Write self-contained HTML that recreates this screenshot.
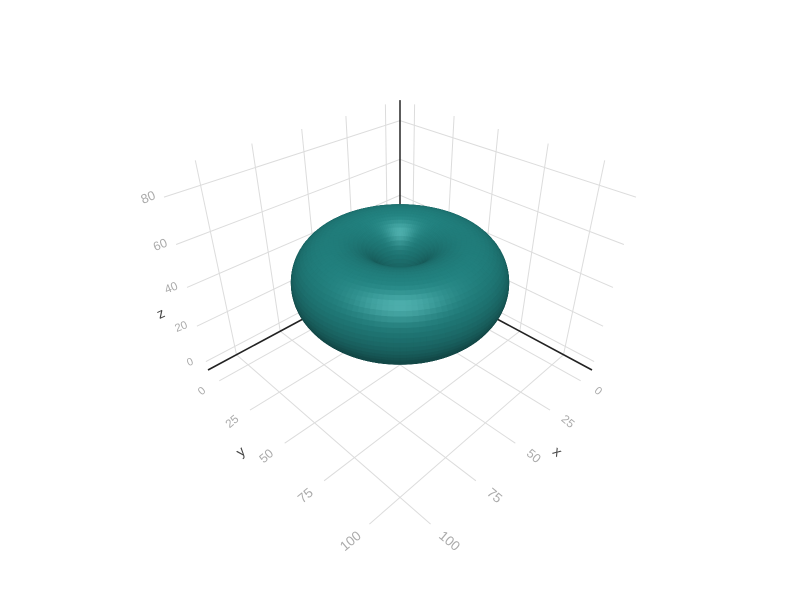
<!DOCTYPE html>
<html><head><meta charset="utf-8">
<style>
html,body{margin:0;padding:0;background:#fff;}
svg{display:block;font-family:"Liberation Sans",sans-serif;}
</style></head>
<body>
<svg id="chart" width="800" height="600" viewBox="0 0 800 600" xmlns="http://www.w3.org/2000/svg">
<rect width="800" height="600" fill="#fff"/>
<g id="grid"></g>
<g id="axes"></g>
<g id="surf"></g>
<g id="labels"></g>
<text x="557" y="456" font-size="14" fill="#444" text-anchor="middle" transform="rotate(40 557 452)">x</text>
<text x="241" y="456" font-size="14" fill="#444" text-anchor="middle" transform="rotate(-40 241 452)">y</text>
<text x="161" y="318" font-size="14" fill="#444" text-anchor="middle" transform="rotate(-25 161 314)">z</text>
</svg>
<script>
const xTicks=[0,25,50,75,100];
const yTicks=[0,25,50,75,100];
const zTicks=[0,20,40,60,80];
const xRange=[-10,115];
const yRange=[-10,115];
const zRange=[-5,90];
const torusCenter=[52.5,52.5,45];
const torusMajor=26;
const torusMinor=18;

const NS="http://www.w3.org/2000/svg";
const H=0.78;
const E=[2.2,2.2,2.1];
const En=Math.hypot(E[0],E[1],E[2]);
const f=E.map(v=>-v/En);
const rv=[-Math.SQRT1_2,Math.SQRT1_2,0];
const up=[rv[1]*f[2]-rv[2]*f[1], rv[2]*f[0]-rv[0]*f[2], rv[0]*f[1]-rv[1]*f[0]];
function dot(a,b){return a[0]*b[0]+a[1]*b[1]+a[2]*b[2];}
function rawP(p){const q=[p[0]-E[0],p[1]-E[1],p[2]-E[2]];const d=dot(q,f);return [dot(q,rv)/d,dot(q,up)/d,d];}
const side=rawP([1,-1,-H]);
const F=192/Math.abs(side[0]);
const CX=400, CY=370+F*side[1];
function proj(p){const r=rawP(p);return [CX+F*r[0],CY-F*r[1],r[2]];}
function ux(x){return (x-(xRange[0]+xRange[1])/2)/((xRange[1]-xRange[0])/2);}
function vy(y){return (y-(yRange[0]+yRange[1])/2)/((yRange[1]-yRange[0])/2);}
function wz(z){return (z-(zRange[0]+zRange[1])/2)/((zRange[1]-zRange[0])/2)*H;}
function line(g,a,b,col,w,name){
  const A=proj(a),B=proj(b);
  const l=document.createElementNS(NS,'line');
  l.setAttribute('x1',A[0].toFixed(1));l.setAttribute('y1',A[1].toFixed(1));
  l.setAttribute('x2',B[0].toFixed(1));l.setAttribute('y2',B[1].toFixed(1));
  l.setAttribute('stroke',col);l.setAttribute('stroke-width',w);
  
  
  g.appendChild(l);
}
const grid=document.getElementById('grid');
const GC='#dcdcdc';
xTicks.forEach(t=>{const u=ux(t);
  line(grid,[u,-1,-H],[u,1,-H],GC,1,'floor-grid-x');
  line(grid,[u,-1,-H],[u,-1,H],GC,1,'wall-grid-x');});
yTicks.forEach(t=>{const v=vy(t);
  line(grid,[-1,v,-H],[1,v,-H],GC,1,'floor-grid-y');
  line(grid,[-1,v,-H],[-1,v,H],GC,1,'wall-grid-y');});
zTicks.forEach(t=>{const w=wz(t);
  line(grid,[-1,-1,w],[1,-1,w],GC,1,'wall-grid-z');
  line(grid,[-1,-1,w],[-1,1,w],GC,1,'wall-grid-z');});
const axes=document.getElementById('axes');
line(axes,[1,-1,-H],[-1,-1,-H],'#222',1.6,'x-axis-line');
line(axes,[-1,1,-H],[-1,-1,-H],'#222',1.6,'y-axis-line');
line(axes,[-1,-1,-H],[-1,-1,H],'#333',1.6,'z-axis-line');

// torus
const surf=document.getElementById('surf');
const NU=120,NV=60;
function tpt(a,b){
  const cx=ux(torusCenter[0]),cy=vy(torusCenter[1]),cz=wz(torusCenter[2]);
  const sx=1/((xRange[1]-xRange[0])/2);
  const R=torusMajor*sx,r=torusMinor*sx;
  return [cx+(R+r*Math.cos(b))*Math.cos(a),cy+(R+r*Math.cos(b))*Math.sin(a),cz+r*Math.sin(b)];
}
let L=[-f[0]+0.5*up[0],-f[1]+0.5*up[1],-f[2]+0.5*up[2]];let ln=Math.hypot(...L);L=L.map(v=>v/ln);
let Hh=[L[0]-f[0],L[1]-f[1],L[2]-f[2]];let hn=Math.hypot(...Hh);Hh=Hh.map(v=>v/hn);
const quads=[];
for(let i=0;i<NU;i++)for(let j=0;j<NV;j++){
  const a0=i/NU*2*Math.PI,a1=(i+1)/NU*2*Math.PI,b0=j/NV*2*Math.PI,b1=(j+1)/NV*2*Math.PI;
  const pts=[tpt(a0,b0),tpt(a1,b0),tpt(a1,b1),tpt(a0,b1)].map(proj);
  const am=(a0+a1)/2,bm=(b0+b1)/2;
  const n=[Math.cos(bm)*Math.cos(am),Math.cos(bm)*Math.sin(am),Math.sin(bm)];
  const d=(pts[0][2]+pts[1][2]+pts[2][2]+pts[3][2])/4;
  const df=Math.max(0,dot(n,L));
  const sp=Math.pow(Math.max(0,dot(n,Hh)),24);
  const k=0.6+0.5*df;
  const col=[31*k+44*sp,120*k+44*sp,118*k+44*sp].map(v=>Math.min(255,Math.round(v)));
  quads.push({pts,d,col});
}
quads.sort((a,b)=>b.d-a.d);
quads.forEach(q=>{
  const p=document.createElementNS(NS,'polygon');
  p.setAttribute('points',q.pts.map(t=>t[0].toFixed(1)+','+t[1].toFixed(1)).join(' '));
  const c='rgb('+q.col.join(',')+')';
  p.setAttribute('fill',c);p.setAttribute('stroke',c);p.setAttribute('stroke-width','0.5');
  
  
  surf.appendChild(p);
});

// labels
const lab=document.getElementById('labels');
function label(p,txt,rot,name,dx,dy){
  const P=proj(p);const fs=Math.max(8,Math.min(13.5,12*3.7/P[2]));
  const x=P[0]+(dx||0),y=P[1]+(dy||0);
  const t=document.createElementNS(NS,'text');
  t.setAttribute('x',x.toFixed(1));t.setAttribute('y',(y+fs*0.35).toFixed(1));
  t.setAttribute('font-size',fs.toFixed(1));t.setAttribute('fill','#aaa');
  t.setAttribute('text-anchor','middle');
  t.setAttribute('transform','rotate('+rot+' '+x.toFixed(1)+' '+y.toFixed(1)+')');
  t.textContent=txt;
  
  
  lab.appendChild(t);
}
xTicks.forEach(t=>label([ux(t),1.14,-H],String(t),40,'x-tick-label'));
yTicks.forEach(t=>label([1.14,vy(t),-H],String(t),-40,'y-tick-label'));
zTicks.forEach(t=>label([1,-1,wz(t)],String(t),-22,'z-tick-label',-16,0));
</script>
</body></html>
